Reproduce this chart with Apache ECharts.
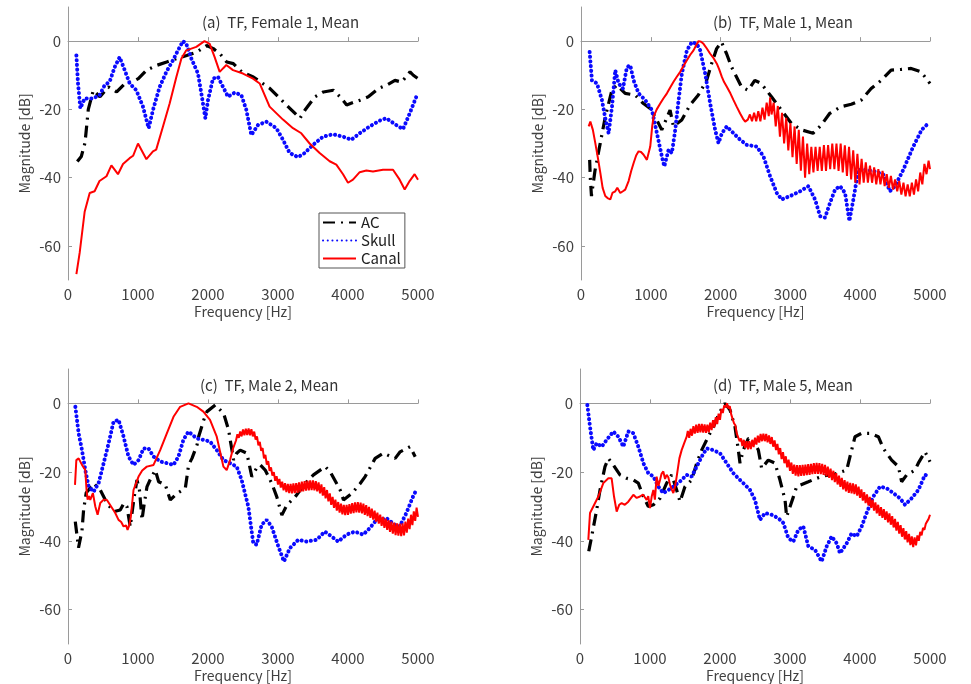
<!DOCTYPE html>
<html>
<head>
<meta charset="utf-8">
<script src="https://cdn.jsdelivr.net/npm/echarts@6/dist/echarts.min.js"></script>
<style>
  html, body { margin: 0; padding: 0; background: #fff; }
  #main { width: 971px; height: 684px; }
</style>
</head>
<body>
<div id="main"></div>
<script>
// tick labels
var xTicks = [0, 1000, 2000, 3000, 4000, 5000];
var yTicks = [-60, -40, -20, 0];
var seriesNames = ['AC', 'Skull', 'Canal'];
var panelTitles = ['(a)  TF, Female 1, Mean', '(b)  TF, Male 1, Mean', '(c)  TF, Male 2, Mean', '(d)  TF, Male 5, Mean'];

// (a) Female 1  [Hz, dB]
var acA = [[133,-35.3],[190,-33.8],[243,-29.8],[290,-20],[362,-14.4],[457,-16.3],[576,-13.4],[695,-14.9],[814,-12.4],[910,-12],[1005,-11],[1124,-8.5],[1267,-7.1],[1410,-6.1],[1552,-5.1],[1695,-4.2],[1838,-3.2],[1981,-1.3],[2076,-2.2],[2171,-3.7],[2267,-6.1],[2362,-6.6],[2481,-9],[2648,-10.5],[2886,-13.9],[3076,-17.8],[3195,-20.2],[3314,-22.6],[3386,-20.2],[3529,-16.3],[3648,-14.9],[3790,-14.4],[3886,-16.3],[3981,-18.7],[4100,-17.8],[4171,-17.3],[4290,-16.3],[4433,-13.9],[4552,-12.9],[4671,-11.5],[4767,-12],[4886,-9],[4933,-10],[5000,-11]];
var skullA = [[120,-4.2],[143,-12.4],[176,-19.7],[238,-16.8],[357,-16.8],[452,-15.8],[524,-12.9],[595,-11.9],[667,-7.6],[738,-4.7],[810,-8.5],[881,-12.4],[976,-14.4],[1071,-19.2],[1152,-25.5],[1214,-20.2],[1310,-13.4],[1405,-9],[1500,-5.6],[1571,-2.7],[1643,0],[1690,-0.8],[1762,-5.1],[1857,-9.5],[1905,-15.3],[1962,-22.6],[2000,-17.3],[2071,-11],[2143,-10.5],[2214,-13.4],[2286,-16.3],[2381,-15.1],[2476,-15.8],[2548,-20.2],[2619,-27.5],[2714,-24.6],[2833,-23.6],[2976,-25.5],[3071,-28.9],[3167,-32.8],[3286,-34],[3381,-32.8],[3500,-30.4],[3643,-28],[3786,-27.3],[3929,-28],[4048,-28.9],[4167,-27],[4310,-25],[4452,-23.3],[4548,-22.6],[4667,-24.3],[4786,-25.8],[4881,-21.2],[4976,-16.3]];
var canalA = [[120,-68.3],[167,-62],[238,-50],[310,-44.5],[380,-44],[450,-41],[550,-39.6],[620,-36.4],[714,-39],[786,-36],[880,-34.3],[930,-33.6],[1000,-30],[1120,-34.6],[1214,-32.3],[1260,-31.8],[1357,-25],[1452,-18.3],[1548,-10.5],[1620,-5.1],[1690,-2.7],[1833,-1.7],[1950,0],[2024,-0.8],[2095,-4.7],[2167,-9],[2214,-8],[2262,-7],[2357,-8.5],[2500,-9.5],[2643,-11],[2738,-12.4],[2880,-19.2],[3071,-23],[3214,-25.5],[3333,-27],[3452,-30],[3595,-32.8],[3738,-35.2],[3833,-36.2],[3929,-39],[4000,-41.5],[4071,-40.6],[4167,-38.4],[4262,-37.9],[4357,-38.2],[4500,-37.7],[4643,-37.7],[4738,-40.6],[4810,-43.5],[4880,-41],[4952,-39],[5000,-40.6]];

// (b) Male 1
var acB = [[124,-34.8],[133,-40],[150,-45.4],[200,-38],[276,-29.9],[348,-22.2],[443,-14.4],[514,-12.9],[633,-15.3],[776,-15.8],[895,-18.3],[990,-19.7],[1086,-23.1],[1157,-26],[1276,-20.2],[1324,-25],[1443,-23.1],[1562,-18.7],[1681,-15.8],[1800,-11.5],[1871,-6.6],[1943,-2.2],[2014,-0.3],[2086,-3.7],[2157,-7.6],[2300,-13.4],[2395,-14.4],[2490,-11.5],[2581,-12.4],[2729,-16.3],[2871,-20.2],[3014,-24.1],[3157,-26],[3324,-27],[3443,-24.6],[3562,-21.2],[3729,-19.2],[3872,-18.5],[4014,-17.3],[4157,-13.9],[4300,-11.5],[4443,-8.5],[4586,-8.3],[4729,-8],[4871,-9],[5000,-12.4]];
var skullB = [[124,-3.2],[157,-11.5],[229,-12.4],[300,-17.3],[348,-22.6],[396,-27],[444,-19.2],[491,-8.5],[539,-12.4],[601,-13.9],[658,-7.6],[706,-7.1],[754,-11.5],[825,-15.3],[921,-17.3],[1016,-20.2],[1088,-27],[1159,-33.8],[1193,-36.7],[1255,-31.8],[1302,-32.8],[1350,-26],[1398,-17.3],[1445,-9.5],[1517,-2.7],[1588,-0.3],[1660,-0.8],[1708,-2.7],[1779,-9.5],[1851,-18.3],[1922,-26],[1970,-29.9],[2018,-27],[2089,-25],[2185,-27],[2280,-28.9],[2375,-30.4],[2519,-30.9],[2614,-33.8],[2709,-39.6],[2805,-44.5],[2876,-46.4],[2996,-45.4],[3139,-44],[3258,-42.5],[3353,-46.4],[3425,-51.3],[3496,-51.7],[3568,-47.4],[3640,-43.5],[3711,-42.5],[3783,-44.5],[3845,-52.7],[3902,-46.4],[3974,-37.7],[4093,-37.7],[4212,-38.2],[4331,-39.1],[4426,-44],[4498,-42.5],[4617,-37.7],[4760,-30.9],[4880,-26],[4975,-24.1]];
var canalB = [[110,-25],[134,-23.6],[170,-26],[205,-29.9],[240,-34],[277,-38.6],[310,-43],[348,-45.4],[380,-46],[420,-46.4],[450,-44.5],[491,-44],[520,-43],[563,-44.5],[600,-44],[634,-43.5],[682,-41],[720,-38],[754,-35.7],[790,-33.5],[825,-32.3],[860,-32.5],[897,-33.3],[944,-34.8],[992,-30.9],[1020,-25],[1040,-22.1],[1085,-20],[1135,-18.3],[1180,-16.8],[1231,-15.3],[1280,-13.5],[1326,-11.9],[1370,-10.5],[1421,-9],[1470,-7.2],[1517,-5.6],[1565,-4],[1612,-2.7],[1650,-1.2],[1684,0],[1720,-0.2],[1755,-0.8],[1800,-2.1],[1851,-3.7],[1900,-5],[1946,-6.6],[1980,-8.3],[2018,-10.5],[2050,-12],[2089,-13.4],[2140,-15.3],[2185,-17.3],[2230,-19.2],[2280,-21.2],[2320,-22.7],[2352,-23.6],[2390,-23],
  [2420,-21.5],[2450,-23.5],[2480,-21],[2510,-23.5],[2540,-20.5],[2570,-23.5],[2600,-19.5],[2630,-23],[2660,-18],[2690,-22],[2710,-16.5],[2730,-21.5],[2760,-18],[2790,-25],[2820,-19],[2850,-28],[2880,-21],[2910,-30],[2940,-22.5],[2970,-32],[3000,-24],[3030,-34],[3060,-25],[3090,-36],[3120,-26],[3150,-38],[3180,-28],[3210,-40],[3240,-30],[3270,-39],[3300,-31],[3330,-38.5],[3360,-31],[3390,-38],[3420,-31],[3450,-38],[3480,-30.5],[3510,-38],[3540,-30.5],[3570,-37.5],[3600,-30],[3630,-37.5],[3660,-30],[3690,-38],[3720,-30],[3750,-38.5],[3780,-30.5],[3810,-39.5],[3840,-31],[3870,-40.5],[3900,-32],[3930,-41.5],[3960,-33],[3990,-42],[4020,-34.5],[4050,-41.5],[4080,-35.5],[4110,-41.5],[4140,-36.5],[4170,-41.5],[4200,-37],[4230,-42],[4260,-37.5],[4290,-42],[4320,-38],[4350,-42.5],[4380,-39],[4410,-43],[4440,-39.5],[4470,-43.5],[4500,-40.5],[4530,-44],[4560,-41],[4590,-45],[4620,-41.5],[4650,-45.5],[4680,-42],[4710,-45.5],[4740,-41.5],[4770,-45],[4800,-40.5],[4830,-44],[4860,-38.5],[4890,-42],[4920,-36],[4950,-39],[4980,-35],[5000,-37.5]];

// (c) Male 2
var acC = [[104,-34.4],[150,-42],[176,-41.7],[200,-37],[223,-31],[260,-26],[295,-25.2],[366,-23.2],[461,-25.2],[556,-29],[651,-31.5],[746,-31],[800,-29],[842,-30],[889,-35.9],[940,-28],[985,-22.3],[1020,-25],[1057,-33.9],[1090,-29],[1129,-24.2],[1190,-21.5],[1247,-19.4],[1295,-22.8],[1390,-23.7],[1461,-28.1],[1557,-26.2],[1676,-24.7],[1723,-17.9],[1771,-16],[1843,-12.1],[1866,-9.7],[1938,-4.9],[1985,-2.4],[2104,-0.5],[2223,-2.9],[2295,-7.8],[2318,-10.7],[2366,-16.5],[2410,-14.5],[2460,-13.6],[2555,-14.5],[2626,-21.3],[2690,-19],[2746,-17.9],[2817,-19.4],[2912,-23.3],[2983,-27.2],[3055,-32.5],[3126,-29.6],[3245,-27.2],[3388,-23.3],[3507,-20.8],[3674,-18.4],[3745,-19.9],[3888,-25.2],[3936,-28.1],[4055,-26.2],[4174,-23.3],[4245,-21.3],[4388,-16],[4507,-14.5],[4674,-16],[4745,-14.1],[4888,-12.6],[4960,-15.5]];
var skullC = [[105,-1],[152,-8.7],[200,-13.6],[247,-19.4],[295,-24.2],[366,-25.7],[437,-23.2],[509,-17.4],[580,-11.6],[651,-5.3],[722,-4.8],[794,-9.7],[865,-15.5],[936,-17.9],[1008,-16.5],[1079,-13.1],[1150,-13.1],[1222,-15.5],[1317,-16.9],[1412,-17.4],[1507,-17.9],[1578,-15.5],[1649,-10.6],[1721,-8.2],[1839,-10.2],[1934,-10.6],[2029,-11.1],[2125,-13.6],[2220,-16.5],[2315,-17.4],[2410,-18.4],[2481,-22.3],[2576,-30],[2647,-40.7],[2695,-41.1],[2766,-35.3],[2838,-33.9],[2909,-35.8],[3004,-41.6],[3085,-46],[3170,-42.1],[3289,-39.7],[3408,-40.2],[3551,-39.7],[3669,-37.3],[3764,-38.7],[3860,-40.2],[3978,-38.2],[4097,-37.3],[4216,-38.2],[4311,-36.3],[4406,-33.9],[4549,-33.4],[4667,-35.3],[4739,-35.8],[4834,-31.9],[4929,-27.1],[4976,-25.2]];
var canalC = [[100,-23.7],[119,-16.5],[152,-16],[200,-17.9],[247,-19.4],[265,-25.2],[280,-28],[300,-27],[318,-28.1],[356,-26.1],[390,-30],[423,-32.4],[461,-29],[510,-28],[556,-28.1],[600,-29.5],[627,-30],[675,-31.9],[722,-33.9],[760,-34.5],[794,-35.8],[830,-35.5],[851,-36.8],[875,-35.5],[898,-32.9],[936,-25.2],[1008,-21.3],[1060,-19.5],[1126,-18.4],[1222,-17.9],[1317,-13.6],[1412,-8.7],[1507,-3.9],[1602,-1],[1721,0],[1839,-1],[1934,-2.4],[2029,-4.8],[2125,-9.7],[2172,-14],[2220,-18.4],[2267,-19.4],[2315,-16.5],[2360,-13],
  [2400,-10.8],[2420,-9],[2440,-10],[2460,-8.2],[2480,-9.6],[2500,-7.6],[2520,-9.3],[2540,-7.4],[2560,-9.2],[2580,-7.3],[2600,-9.3],[2620,-7.5],[2640,-9.6],[2660,-8.2],[2680,-10.5],[2700,-9.6],[2720,-12.2],[2740,-11.2],[2760,-13.8],[2780,-13],[2800,-16],[2820,-15],[2840,-17.8],[2860,-16.8],[2880,-19.6],[2900,-18.6],[2920,-21],[2940,-20],[2960,-22.5],[2980,-21.2],[3000,-23.6],[3020,-22],[3040,-24.5],[3060,-22.8],[3080,-25.3],[3100,-23.2],[3120,-25.8],[3140,-23.4],[3160,-26.1],[3180,-23.4],[3200,-26.2],[3220,-23.3],[3240,-26.1],[3260,-23.2],[3280,-26],[3300,-23],[3320,-25.8],[3340,-22.8],[3360,-25.6],[3380,-22.6],[3400,-25.4],[3420,-22.5],[3440,-25.3],[3460,-22.4],[3480,-25.2],[3500,-22.4],[3520,-25.3],[3540,-22.6],[3560,-25.6],[3580,-23],[3600,-26.2],[3620,-23.6],[3640,-26.8],[3660,-24.4],[3680,-27.6],[3700,-25.2],[3720,-28.5],[3740,-26.2],[3760,-29.5],[3780,-27.2],[3800,-30.4],[3820,-28],[3840,-31.2],[3860,-28.7],[3880,-31.8],[3900,-29.2],[3920,-32.3],[3940,-29.5],[3960,-32.5],[3980,-29.5],[4000,-32.4],[4020,-29.3],[4040,-32.1],[4060,-29],[4080,-31.9],[4100,-28.8],[4120,-31.7],[4140,-28.7],[4160,-31.8],[4180,-28.9],[4200,-32],[4220,-29.2],[4240,-32.4],[4260,-29.6],[4280,-32.8],[4300,-30.1],[4320,-33.3],[4340,-30.6],[4360,-33.8],[4380,-31.2],[4400,-34.4],[4420,-31.8],[4440,-35],[4460,-32.4],[4480,-35.6],[4500,-33],[4520,-36.2],[4540,-33.5],[4560,-36.8],[4580,-34],[4600,-37.4],[4620,-34.4],[4640,-37.9],[4660,-34.7],[4680,-38.3],[4700,-34.9],[4720,-38.5],[4740,-35],[4760,-38.6],[4780,-34.9],[4800,-38.4],[4820,-34.4],[4840,-37.6],[4860,-33.5],[4880,-36.6],[4900,-32.4],[4920,-35.4],[4940,-31.4],[4960,-34.2],[4980,-30.3],[5000,-33]];

// (d) Male 5
var acD = [[125,-43],[143,-42.6],[167,-38.7],[238,-31],[286,-25.2],[357,-18.4],[405,-16],[476,-17.9],[571,-20.8],[667,-21.8],[762,-22.3],[833,-23.2],[905,-27.1],[976,-30],[1048,-29.5],[1143,-27.6],[1238,-23.2],[1310,-20.8],[1381,-25.2],[1429,-28.6],[1500,-24.2],[1595,-22.3],[1667,-17.4],[1738,-13.6],[1810,-10.6],[1905,-6.8],[2000,-2.4],[2071,0],[2143,-1.9],[2214,-6.8],[2262,-13.6],[2286,-17.4],[2333,-13.6],[2405,-10.2],[2476,-10.6],[2548,-13.6],[2595,-18.9],[2690,-16.5],[2786,-17.4],[2857,-22.3],[2929,-28.1],[2952,-33],[3048,-27.2],[3095,-24.2],[3262,-22.8],[3381,-21.8],[3500,-21],[3650,-20.5],[3810,-19.4],[3857,-15.5],[3929,-9.7],[4024,-8.7],[4143,-8.7],[4262,-9.7],[4333,-13.1],[4452,-16.5],[4548,-18.4],[4595,-22.8],[4667,-20.8],[4786,-19.4],[4833,-17.4],[4929,-14.1],[5000,-17]];
var skullD = [[105,-0.5],[143,-6.8],[190,-13.6],[238,-11.6],[310,-12.6],[381,-10.6],[476,-8.2],[548,-9.7],[619,-12.6],[690,-8.2],[762,-8.7],[833,-12.6],[905,-17.4],[976,-20.3],[1048,-21.3],[1119,-24.2],[1190,-26.1],[1262,-25.2],[1333,-24.2],[1429,-22.7],[1524,-20.8],[1595,-21.3],[1667,-18.4],[1738,-15.5],[1810,-13.1],[1905,-13.6],[2000,-14.5],[2095,-17.4],[2190,-20.3],[2262,-21.8],[2333,-23.2],[2429,-25.2],[2500,-28.1],[2571,-33.9],[2643,-31.9],[2738,-32.4],[2833,-33.4],[2905,-34.8],[2976,-39.2],[3048,-40.2],[3119,-36.8],[3190,-35.8],[3262,-41.6],[3357,-42.6],[3452,-46],[3524,-41.6],[3595,-38.7],[3667,-40.7],[3714,-43.6],[3810,-40.7],[3881,-37.8],[3952,-38.7],[4024,-35.8],[4095,-31.9],[4190,-27.1],[4286,-24.2],[4381,-24.7],[4476,-26.1],[4571,-27.6],[4643,-29.5],[4738,-27.6],[4833,-25.2],[4929,-20.8],[5000,-21.3]];
var canalD = [[119,-39.7],[143,-31.9],[190,-30],[262,-27.1],[333,-23.2],[405,-21.8],[452,-21.8],[486,-27.1],[524,-31.5],[560,-29.5],[595,-29],[640,-29.5],[690,-28.6],[762,-26.6],[810,-27.5],[857,-27.1],[900,-26.5],[952,-28.1],[975,-27],[1000,-30.5],[1025,-27],[1048,-25.2],[1070,-28],[1095,-21.3],[1120,-24],[1143,-22.3],[1165,-20.5],[1190,-19.8],[1215,-22],[1238,-20.8],[1262,-21.5],[1286,-23.7],[1310,-25],[1333,-26.1],[1360,-24],[1381,-21.3],[1420,-16],[1452,-13.6],[1490,-11.5],[1524,-9.7],
  [1540,-8],[1560,-10],[1580,-7.4],[1600,-9.4],[1620,-6.6],[1640,-8.8],[1660,-6.2],[1680,-8.6],[1700,-6],[1720,-8.4],[1740,-6],[1760,-8.5],[1780,-6.1],[1800,-8.6],[1820,-6.2],[1840,-8.4],[1860,-5.6],[1880,-7.8],[1900,-4.9],[1920,-7],[1940,-4],[1960,-6],[1980,-3],[2000,-4.8],[2020,-1.6],[2040,-2.8],[2060,-0.6],[2080,-1.2],[2100,0],[2120,-1.5],[2140,-0.8],[2160,-3.2],[2180,-3.4],[2200,-5.8],[2220,-6.4],[2240,-8.8],[2260,-8.6],[2280,-11],[2300,-10.2],[2320,-12.4],[2340,-10.6],[2360,-13],[2380,-11],[2400,-13.4],[2420,-11],[2440,-13.3],[2460,-10.6],[2480,-12.7],[2500,-10],[2520,-12],[2540,-9.4],[2560,-11.4],[2580,-8.9],[2600,-11],[2620,-8.8],[2640,-11],[2660,-8.9],[2680,-11.3],[2700,-9.3],[2720,-11.8],[2740,-9.8],[2760,-12.6],[2780,-10.8],[2800,-13.6],[2820,-11.8],[2840,-14.8],[2860,-13],[2880,-16.2],[2900,-14.2],[2920,-17.4],[2940,-15.4],[2960,-18.6],[2980,-16.4],[3000,-19.6],[3020,-17.2],[3040,-20.5],[3060,-17.8],[3080,-21],[3100,-18],[3120,-21.2],[3140,-18],[3160,-21.1],[3180,-17.9],[3200,-21],[3220,-17.8],[3240,-20.9],[3260,-17.7],[3280,-20.8],[3300,-17.6],[3320,-20.6],[3340,-17.4],[3360,-20.5],[3380,-17.3],[3400,-20.5],[3420,-17.4],[3440,-20.6],[3460,-17.6],[3480,-20.8],[3500,-17.9],[3520,-21.2],[3540,-18.4],[3560,-21.7],[3580,-19],[3600,-22.3],[3620,-19.6],[3640,-22.9],[3660,-20.3],[3680,-23.6],[3700,-21],[3720,-24.3],[3740,-21.7],[3760,-25],[3780,-22.3],[3800,-25.6],[3820,-22.8],[3840,-26],[3860,-23.1],[3880,-26.2],[3900,-23.3],[3920,-26.4],[3940,-23.6],[3960,-26.8],[3980,-24.2],[4000,-27.5],[4020,-25],[4040,-28.3],[4060,-25.8],[4080,-29],[4100,-26.5],[4120,-29.7],[4140,-27.2],[4160,-30.4],[4180,-28],[4200,-31.2],[4220,-28.8],[4240,-32],[4260,-29.5],[4280,-32.7],[4300,-30.2],[4320,-33.3],[4340,-30.8],[4360,-33.9],[4380,-31.4],[4400,-34.6],[4420,-32],[4440,-35.3],[4460,-32.8],[4480,-36.1],[4500,-33.6],[4520,-37],[4540,-34.5],[4560,-37.9],[4580,-35.4],[4600,-38.8],[4620,-36.3],[4640,-39.6],[4660,-37.2],[4680,-40.4],[4700,-38],[4720,-41.2],[4740,-38.7],[4760,-41.8],[4780,-39],[4800,-41.3],[4820,-38.4],[4840,-40],[4860,-37.4],[4880,-38.4],[4900,-36.2],[4920,-36.8],[4940,-35],[4960,-35.2],[4980,-33.6],[5000,-32.4]];

var panels = [
  { ac: acA, skull: skullA, canal: canalA },
  { ac: acB, skull: skullB, canal: canalB },
  { ac: acC, skull: skullC, canal: canalC },
  { ac: acD, skull: skullD, canal: canalD }
];

var font = '"Noto Sans CJK JP", "Noto Sans", sans-serif';
var txtColor = '#404040';
var axisColor = '#9a9a9a';

var grids = [
  { left: 68, top: 7, width: 350, height: 273 },
  { left: 581, top: 7, width: 349, height: 273 },
  { left: 68, top: 369, width: 350, height: 275 },
  { left: 580, top: 369, width: 350, height: 275 }
];
var titlePos = [[202, 15], [713, 15], [200, 378], [713, 378]];

var colors = { AC: '#000000', Skull: '#0a0aff', Canal: '#ff0000' };
var lineStyles = {
  AC: { color: colors.AC, width: 3.2, type: [12, 6, 2, 6] },
  Skull: { color: colors.Skull, width: 4, type: [0.1, 4.6], cap: 'round' },
  Canal: { color: colors.Canal, width: 2 }
};

var xAxes = [], yAxes = [], series = [], titles = [];
grids.forEach(function (g, i) {
  xAxes.push({
    type: 'value', gridIndex: i, min: 0, max: 5000, interval: 1000,
    name: 'Frequency [Hz]', nameLocation: 'middle', nameGap: 25,
    nameTextStyle: { fontFamily: font, fontSize: 14, color: txtColor },
    axisLine: { lineStyle: { color: axisColor, width: 1 } },
    axisTick: { inside: true, length: 4, lineStyle: { color: axisColor } },
    axisLabel: { fontFamily: font, fontSize: 15, color: txtColor, margin: 7,
      formatter: function (v) { return String(v); } },
    splitLine: { show: false }
  });
  yAxes.push({
    type: 'value', gridIndex: i, min: -70, max: 10,
    name: 'Magnitude [dB]', nameLocation: 'middle', nameGap: 36,
    nameTextStyle: { fontFamily: font, fontSize: 14, color: txtColor },
    axisLine: { show: true, lineStyle: { color: axisColor, width: 1 } },
    axisTick: { show: true, inside: true, length: 4, customValues: yTicks, lineStyle: { color: axisColor } },
    axisLabel: { fontFamily: font, fontSize: 15, color: txtColor, margin: 7, customValues: yTicks,
      formatter: function (v) { return String(v); } },
    splitLine: { show: false }
  });
  titles.push({
    text: panelTitles[i], left: titlePos[i][0], top: titlePos[i][1], padding: 0,
    textStyle: { fontFamily: font, fontSize: 15, fontWeight: 'normal', color: '#333' }
  });
  var p = panels[i];
  [['AC', p.ac], ['Skull', p.skull], ['Canal', p.canal]].forEach(function (s) {
    series.push({
      name: s[0], type: 'line', xAxisIndex: i, yAxisIndex: i,
      data: s[1], symbol: 'none', smooth: false, animation: false,
      color: colors[s[0]],
      lineStyle: lineStyles[s[0]]
    });
  });
});

var chart = echarts.init(document.getElementById('main'));
chart.setOption({
  animation: false,
  backgroundColor: '#fff',
  title: titles,
  grid: grids,
  xAxis: xAxes,
  yAxis: yAxes,
  legend: {
    data: seriesNames, orient: 'vertical', left: 319, top: 213,
    itemWidth: 33, itemHeight: 14, itemGap: 3,
    padding: [2, 4, 2, 3],
    borderColor: '#555', borderWidth: 1, backgroundColor: '#fff',
    itemStyle: { opacity: 0 },
    textStyle: { fontFamily: font, fontSize: 15, color: '#222', lineHeight: 15 },
    selectedMode: false
  },
  series: series
});
</script>
</body>
</html>
